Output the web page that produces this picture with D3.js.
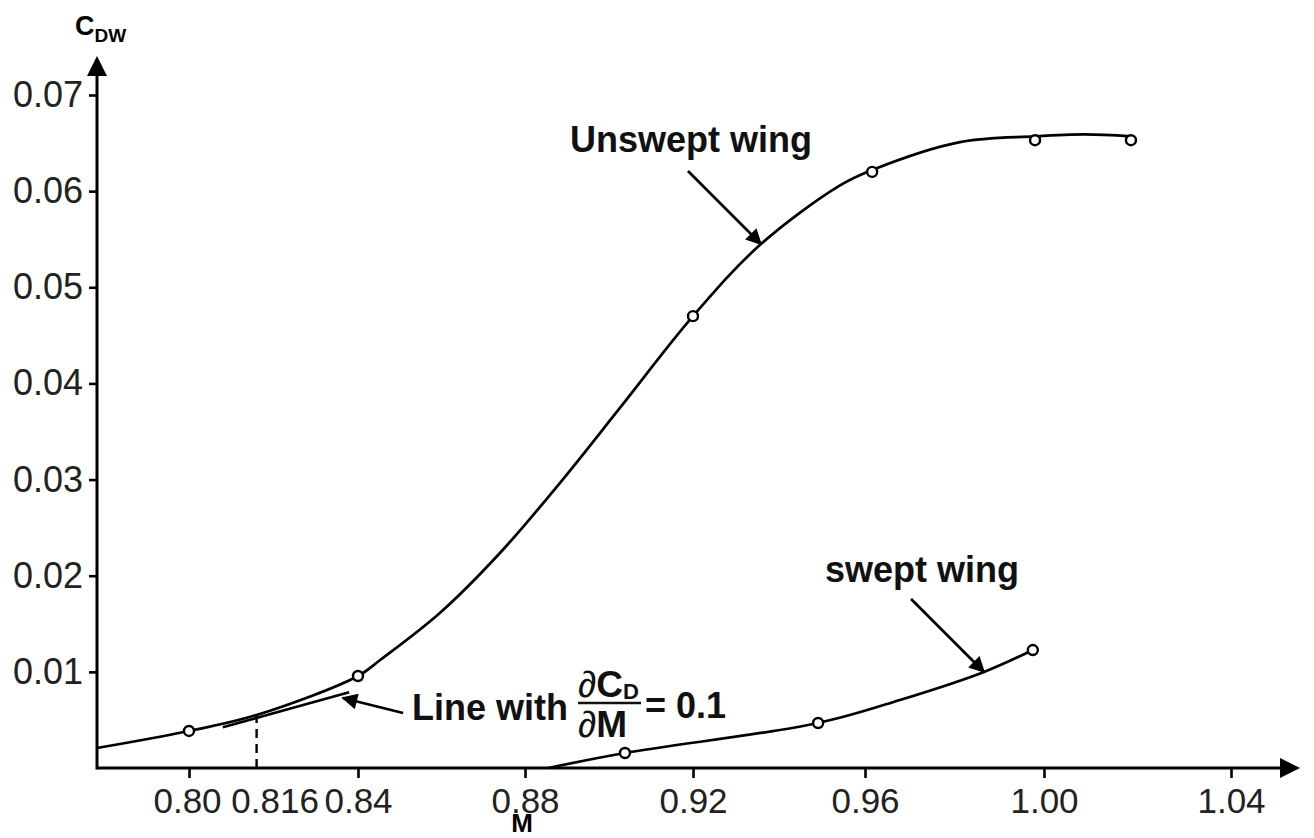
<!DOCTYPE html>
<html>
<head>
<meta charset="utf-8">
<script src="https://cdn.jsdelivr.net/npm/d3@7"></script>
<style>
body{margin:0;background:#fff}
svg{font-family:"Liberation Sans",Arial,Helvetica,sans-serif}
</style>
</head>
<body>
<div id="chart"></div>
<script>
var xTicks = [0.80, 0.816, 0.84, 0.88, 0.92, 0.96, 1.00, 1.04]
var yTicks = [0.01, 0.02, 0.03, 0.04, 0.05, 0.06, 0.07]

// unswept wing curve
var unsweptM = [0.7782, 0.800, 0.816, 0.840, 0.8453, 0.8596, 0.8740, 0.8883, 0.9026, 0.920, 0.9358, 0.9542, 0.9616, 0.9812, 0.998, 1.0088, 1.0186]
var unsweptC = [0.00208, 0.00385, 0.00551, 0.00957, 0.01123, 0.01612, 0.02236, 0.02964, 0.03745, 0.0470, 0.0545, 0.0606, 0.0622, 0.0651, 0.0657, 0.0659, 0.0657]
var unsweptPtsM = [0.800, 0.840, 0.920, 0.9616, 0.998, 1.0186]
var unsweptPtsC = [0.00385, 0.00957, 0.0470, 0.0620, 0.0653, 0.0653]

// swept wing curve
var sweptM = [0.8855, 0.9038, 0.9491, 0.9678, 0.9866, 0.9975]
var sweptC = [0.0000, 0.00156, 0.00468, 0.00707, 0.00999, 0.01227]
var sweptPtsM = [0.9038, 0.9491, 0.9975]
var sweptPtsC = [0.00156, 0.00468, 0.01227]

// tangent line dCd/dM = 0.1
var tangentM = [0.808, 0.8379]
var tangentC = [0.00424, 0.00787]
var critM = 0.816
var critC = 0.0055

var svg = d3.select("#chart").append("svg").attr("width", 1314).attr("height", 838)

var x = d3.scaleLinear()
    .domain([0.80, 0.84, 0.88, 0.92, 0.96, 1.00, 1.04])
    .range([189, 358, 525, 693, 865, 1044, 1231])
var y = d3.scaleLinear().domain([0, 0.07]).range([768, 95])

var defs = svg.append("defs")
defs.append("marker").attr("id", "head")
    .attr("viewBox", "0 0 10 10").attr("refX", 9).attr("refY", 5)
    .attr("markerWidth", 24).attr("markerHeight", 16)
    .attr("markerUnits", "userSpaceOnUse").attr("orient", "auto")
    .append("path").attr("d", "M0,0L10,5L0,10z").attr("fill", "#000")
defs.append("marker").attr("id", "axisHead")
    .attr("viewBox", "0 0 10 10").attr("refX", 3).attr("refY", 5)
    .attr("markerWidth", 27).attr("markerHeight", 20)
    .attr("markerUnits", "userSpaceOnUse").attr("orient", "auto")
    .append("path").attr("d", "M0,0L10,5L0,10z").attr("fill", "#000")

// axes
var xAxis = d3.axisBottom(x).tickValues(xTicks).tickSize(10).tickPadding(10).tickSizeOuter(0)
    .tickFormat(function(d){ return d == 0.816 ? "0.816" : d3.format(".2f")(d) })
var gx = svg.append("g").attr("transform", "translate(0,768)").call(xAxis)
gx.select(".domain").remove()
gx.selectAll(".tick line").attr("stroke", "#000").attr("stroke-width", 2.6)
    .attr("display", function(d){ return d == 0.816 ? "none" : null })
gx.selectAll(".tick text").attr("font-size", 35).attr("fill", "#222").attr("font-family", null)
    .attr("dx", function(d){ return d == 0.816 ? 18 : (d == 0.80 ? -2 : 0) })

var yAxis = d3.axisLeft(y).tickValues(yTicks).tickSize(8).tickPadding(6).tickSizeOuter(0)
    .tickFormat(d3.format(".2f"))
var gy = svg.append("g").attr("transform", "translate(97,0)").call(yAxis)
gy.select(".domain").remove()
gy.selectAll(".tick line").attr("stroke", "#000").attr("stroke-width", 2.6)
gy.selectAll(".tick text").attr("font-size", 36).attr("fill", "#222").attr("font-family", null)

svg.append("line").attr("x1", 97).attr("y1", 768).attr("x2", 1286).attr("y2", 768)
    .attr("stroke", "#000").attr("stroke-width", 3).attr("marker-end", "url(#axisHead)")
svg.append("line").attr("x1", 97).attr("y1", 769.5).attr("x2", 97).attr("y2", 70)
    .attr("stroke", "#000").attr("stroke-width", 3).attr("marker-end", "url(#axisHead)")

// axis titles
var cdw = svg.append("text").attr("x", 75).attr("y", 35).attr("font-weight", "bold")
cdw.append("tspan").text("C").attr("font-size", 27)
cdw.append("tspan").text("DW").attr("font-size", 19).attr("dy", 7)
svg.append("text").text("M").attr("x", 522).attr("y", 832).attr("text-anchor", "middle")
    .attr("font-weight", "bold").attr("font-size", 26)

// curves
var line = d3.line().x(function(d){ return x(d[0]) }).y(function(d){ return y(d[1]) })
    .curve(d3.curveCatmullRom.alpha(0.5))
var unswept = unsweptM.map(function(m, i){ return [m, unsweptC[i]] })
var swept = sweptM.map(function(m, i){ return [m, sweptC[i]] })
svg.append("path").attr("d", line(unswept)).attr("fill", "none").attr("stroke", "#000").attr("stroke-width", 2.7)
svg.append("path").attr("d", line(swept)).attr("fill", "none").attr("stroke", "#000").attr("stroke-width", 2.7)

// tangent and critical Mach dashed line
svg.append("line").attr("x1", x(tangentM[0])).attr("y1", y(tangentC[0]))
    .attr("x2", x(tangentM[1])).attr("y2", y(tangentC[1]))
    .attr("stroke", "#000").attr("stroke-width", 2.6)
svg.append("line").attr("x1", x(critM)).attr("y1", y(0)).attr("x2", x(critM)).attr("y2", y(critC))
    .attr("stroke", "#000").attr("stroke-width", 2.4).attr("stroke-dasharray", "9,6")

// measured points
var pts = unsweptPtsM.map(function(m, i){ return [m, unsweptPtsC[i]] })
    .concat(sweptPtsM.map(function(m, i){ return [m, sweptPtsC[i]] }))
svg.selectAll("circle").data(pts).enter().append("circle")
    .attr("cx", function(d){ return x(d[0]) })
    .attr("cy", function(d){ return y(d[1]) })
    .attr("r", 5)
    .attr("fill", "#fff").attr("stroke", "#000").attr("stroke-width", 2.4)

// annotation arrows
var arrows = [
    [[0.9188, 0.0621], [0.9358, 0.0545]],
    [[0.9703, 0.01758], [0.9866, 0.00999]],
    [[0.8508, 0.00572], [0.8364, 0.00728]]
]
svg.selectAll(".arrow").data(arrows).enter().append("line").attr("class", "arrow")
    .attr("x1", function(d){ return x(d[0][0]) })
    .attr("y1", function(d){ return y(d[0][1]) })
    .attr("x2", function(d){ return x(d[1][0]) })
    .attr("y2", function(d){ return y(d[1][1]) })
    .attr("stroke", "#000").attr("stroke-width", 2.7).attr("marker-end", "url(#head)")

// labels
svg.append("text").text("Unswept wing").attr("x", 570).attr("y", 152)
    .attr("font-weight", "bold").attr("font-size", 36).attr("fill", "#111")
svg.append("text").text("swept wing").attr("x", 825).attr("y", 582)
    .attr("font-weight", "bold").attr("font-size", 36).attr("fill", "#111")
svg.append("text").text("Line with").attr("x", 412).attr("y", 720)
    .attr("font-weight", "bold").attr("font-size", 36).attr("fill", "#111")
var num = svg.append("text").attr("x", 578).attr("y", 697).attr("font-size", 37).attr("fill", "#111")
num.append("tspan").text("∂")
num.append("tspan").text("C").attr("font-weight", "bold")
num.append("tspan").text("D").attr("font-weight", "bold").attr("font-size", 22).attr("dy", 2)
svg.append("line").attr("x1", 578).attr("x2", 641).attr("y1", 703).attr("y2", 703)
    .attr("stroke", "#111").attr("stroke-width", 2.5)
var den = svg.append("text").attr("x", 578).attr("y", 737).attr("font-size", 37).attr("fill", "#111")
den.append("tspan").text("∂")
den.append("tspan").text("M").attr("font-weight", "bold")
svg.append("text").text("= 0.1").attr("x", 645).attr("y", 718)
    .attr("font-weight", "bold").attr("font-size", 36).attr("fill", "#111")
</script>
</body>
</html>
